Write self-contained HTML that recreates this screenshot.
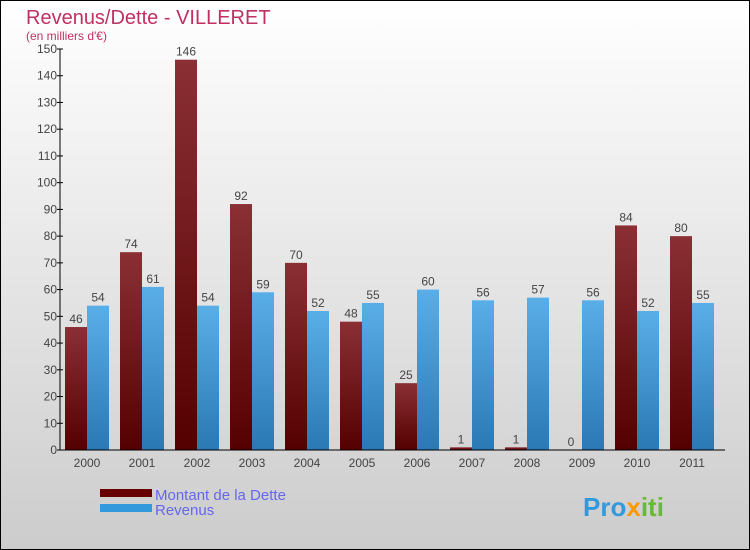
<!DOCTYPE html>
<html><head><meta charset="utf-8"><style>
html,body{margin:0;padding:0}
body{width:750px;height:550px;overflow:hidden;font-family:"Liberation Sans",sans-serif}
#wrap{position:relative;width:748px;height:548px;border:1px solid #000;background:linear-gradient(#ffffff,#cccccc)}
</style></head><body>
<div id="wrap">
<svg id="chart" width="748" height="548" style="position:absolute;left:0;top:0">
<defs>
<linearGradient id="gd" x1="0" y1="0" x2="0" y2="1"><stop offset="0" stop-color="#8a3035"/><stop offset="1" stop-color="#550000"/></linearGradient>
<linearGradient id="gr" x1="0" y1="0" x2="0" y2="1"><stop offset="0" stop-color="#5aaee8"/><stop offset="1" stop-color="#2a78b4"/></linearGradient>
</defs>
<text x="25" y="23" font-size="20" fill="#c03060">Revenus/Dette - VILLERET</text>
<text x="25" y="39" font-size="12" fill="#c03060">(en milliers d'€)</text>
<g id="bars"></g>
<g id="axes"></g>
<rect x="99" y="488" width="52" height="8" fill="#660000"/>
<rect x="99" y="503" width="52" height="8" fill="#3399dd"/>
<text x="154" y="499" font-size="15" fill="#6666ee">Montant de la Dette</text>
<text x="154" y="514" font-size="15" fill="#6666ee">Revenus</text>
<text x="582" y="515" font-size="26" font-weight="bold" fill="#3399dd">Pro<tspan fill="#ff9900">x</tspan><tspan fill="#66bb33">iti</tspan></text>
</svg>
</div>
<script>
const years=["2000","2001","2002","2003","2004","2005","2006","2007","2008","2009","2010","2011"];
const dette=[46,74,146,92,70,48,25,1,1,0,84,80];
const revenus=[54,61,54,59,52,55,60,56,57,56,52,55];
const yTicks=[0,10,20,30,40,50,60,70,80,90,100,110,120,130,140,150];
const NS="http://www.w3.org/2000/svg";
const x0=59,y0=449,yTop=48,maxV=150,step=55;
function ys(v){return y0-(y0-yTop)*v/maxV;}
function xc(i){return x0+27+i*step;}
function mk(t,a,p){const e=document.createElementNS(NS,t);for(const k in a)e.setAttribute(k,a[k]);p.appendChild(e);return e;}
const bars=document.getElementById('bars'),axes=document.getElementById('axes');
years.forEach((y,i)=>{
  const c=xc(i);
  const d=dette[i],r=revenus[i];
  const b1=mk('rect',{x:c-22,y:ys(d),width:22,height:y0-ys(d),fill:'url(#gd)'},bars);
  
  
  const b2=mk('rect',{x:c,y:ys(r),width:22,height:y0-ys(r),fill:'url(#gr)'},bars);
  
  
  const l1=mk('text',{x:c-11,y:ys(d)-4,'font-size':12,fill:'#444','text-anchor':'middle'},bars);l1.textContent=d;
  
  
  const l2=mk('text',{x:c+11,y:ys(r)-4,'font-size':12,fill:'#444','text-anchor':'middle'},bars);l2.textContent=r;
  
  
  const xl=mk('text',{x:c,y:y0+17,'font-size':12,fill:'#444','text-anchor':'middle'},axes);xl.textContent=y;
  
  
});
mk('line',{x1:x0,y1:yTop,x2:x0,y2:y0,stroke:'#000'},axes);
const xa=mk('line',{x1:x0,y1:y0,x2:724,y2:y0,stroke:'#000'},axes);


yTicks.forEach(v=>{
  mk('line',{x1:x0-3,y1:ys(v),x2:x0+3,y2:ys(v),stroke:'#000'},axes);
  const t=mk('text',{x:x0-3,y:ys(v)+4,'font-size':12,fill:'#444','text-anchor':'end'},axes);t.textContent=v;
  
  
});
</script>
</body></html>
